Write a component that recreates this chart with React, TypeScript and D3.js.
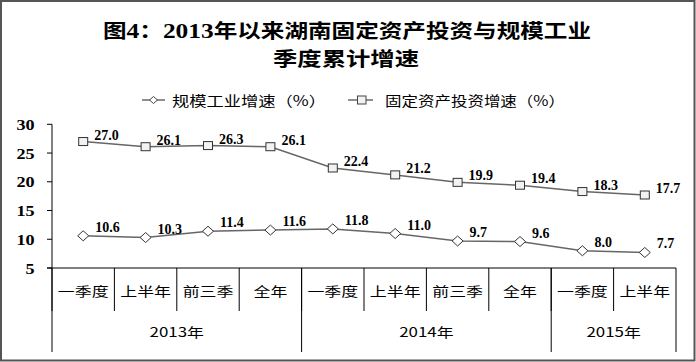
import * as d3 from 'd3'

const W = 696
const H = 362
const M = { left: 52, right: 20, top: 124.3, bottom: 268 }

const categories = ['一季度', '上半年', '前三季', '全年', '一季度', '上半年', '前三季', '全年', '一季度', '上半年']
const years = ['2013年', '2014年', '2015年']
const yearSpans = [4, 4, 2]
const industry = [10.6, 10.3, 11.4, 11.6, 11.8, 11.0, 9.7, 9.6, 8.0, 7.7]
const investment = [27.0, 26.1, 26.3, 26.1, 22.4, 21.2, 19.9, 19.4, 18.3, 17.7]
const yTicks = [5, 10, 15, 20, 25, 30]

const CJK = '"Noto Sans CJK SC", sans-serif'
const NUM = '"Liberation Serif", "Times New Roman", serif'
const SX = 1.3 // the source picture is stretched sideways

function SText({ x, y, sx = SX, anchor = 'start', size, weight = 'normal', family = CJK, children }: any) {
  return (
    <text
      transform={`translate(${x},${y}) scale(${sx},1)`}
      textAnchor={anchor}
      fontSize={size}
      fontWeight={weight}
      fontFamily={family}
      fill="#000"
    >
      {children}
    </text>
  )
}

const diamond = (cx: number, cy: number, rx: number, ry: number) =>
  `M${cx},${cy - ry}L${cx + rx},${cy}L${cx},${cy + ry}L${cx - rx},${cy}Z`

export default function App() {
  const x = d3.scaleBand<number>()
    .domain(categories.map((_, i) => i))
    .range([M.left, W - M.right])
    .padding(0)
  const y = d3.scaleLinear().domain([5, 30]).range([M.bottom, M.top])
  const cx = (i: number) => (x(i) as number) + x.bandwidth() / 2

  const line = d3.line<number>()
    .x((_, i) => cx(i))
    .y((d) => y(d))

  const x0 = M.left
  const x1 = W - M.right
  const tickBottom = 311
  const yearBottom = 352

  // year boundaries
  const yearEdges: number[] = [0]
  yearSpans.forEach((s, i) => yearEdges.push(yearEdges[i] + s))
  const edgeX = (k: number) => (k >= categories.length ? x1 : (x(k) as number))

  return (
    <svg
      width={W}
      height={H}
      style={{ position: 'absolute', left: 0, top: 0, display: 'block', background: '#fff' }}
    >
      <rect x={1} y={1} width={W - 2.5} height={H - 2.5} fill="#fff" stroke="#555" strokeWidth={2} />

      {/* title */}
      <text x={347} y={38} textAnchor="middle" fontFamily={CJK} fontWeight="bold" fontSize={19.5}
        textLength={488} lengthAdjust="spacingAndGlyphs">
        图<tspan fontFamily={NUM} fontSize={21}>4</tspan>：<tspan fontFamily={NUM} fontSize={21}>2013</tspan>年以来湖南固定资产投资与规模工业
      </text>
      <text x={346} y={66} textAnchor="middle" fontFamily={CJK} fontWeight="bold" fontSize={19.5}
        textLength={146} lengthAdjust="spacingAndGlyphs">季度累计增速</text>

      {/* legend */}
      <g>
        <line x1={142} x2={165} y1={100} y2={100} stroke="#444" strokeWidth={1.2} />
        <path d={diamond(153.5, 100, 4, 3.5)} fill="#fff" stroke="#444" strokeWidth={1} />
        <text x={172} y={105.5} fontFamily={CJK} fontSize={14} textLength={154} lengthAdjust="spacingAndGlyphs">规模工业增速（%）</text>
        <line x1={348} x2={373} y1={100} y2={100} stroke="#444" strokeWidth={1.2} />
        <rect x={357.5} y={96} width={8.5} height={8} fill="#f2f2f2" stroke="#444" strokeWidth={1} />
        <text x={385} y={105.5} fontFamily={CJK} fontSize={14} textLength={180} lengthAdjust="spacingAndGlyphs">固定资产投资增速（%）</text>
      </g>

      {/* y axis */}
      <line x1={x0} x2={x0} y1={y(30)} y2={M.bottom} stroke="#000" strokeWidth={1} />
      {yTicks.map((t) => (
        <g key={t}>
          <line x1={x0 - 5} x2={x0} y1={y(t)} y2={y(t)} stroke="#000" strokeWidth={1} />
          <SText x={34.5} y={y(t) + 5.5} anchor="end" size={14.5} weight="bold" family={NUM} sx={1.25}>{t}</SText>
        </g>
      ))}

      {/* x axis */}
      <line x1={x0 - 5} x2={x1} y1={M.bottom} y2={M.bottom} stroke="#000" strokeWidth={1} />
      {categories.map((_, i) => (
        <line key={'t' + i} x1={x(i) as number} x2={x(i) as number} y1={M.bottom} y2={tickBottom} stroke="#000" strokeWidth={1} />
      ))}
      {yearEdges.map((k) => (
        <line key={'e' + k} x1={edgeX(k)} x2={edgeX(k)} y1={M.bottom} y2={yearBottom} stroke="#000" strokeWidth={1} />
      ))}
      {categories.map((c, i) => (
        <SText key={'c' + i} x={cx(i)} y={295.5} anchor="middle" size={13}>{c}</SText>
      ))}
      {years.map((yr, j) => (
        <SText key={yr} x={(edgeX(yearEdges[j]) + edgeX(yearEdges[j + 1])) / 2} y={336.5} anchor="middle" size={13}>{yr}</SText>
      ))}

      {/* series */}
      <path d={line(investment) as string} fill="none" stroke="#666" strokeWidth={1.5} />
      <path d={line(industry) as string} fill="none" stroke="#666" strokeWidth={1.5} />

      {investment.map((v, i) => (
        <g key={'s' + i}>
          <rect x={cx(i) - 4.5} y={y(v) - 4} width={9} height={8} fill="#f2f2f2" stroke="#333" strokeWidth={1} />
          <text x={cx(i) + 11} y={y(v) - 2} fontFamily={NUM} fontWeight="bold" fontSize={14}>{v.toFixed(1)}</text>
        </g>
      ))}
      {industry.map((v, i) => (
        <g key={'d' + i}>
          <path d={diamond(cx(i), y(v), 5.5, 5)} fill="#fff" stroke="#333" strokeWidth={1} />
          <text x={cx(i) + 12} y={y(v) - 4} fontFamily={NUM} fontWeight="bold" fontSize={14}>{v.toFixed(1)}</text>
        </g>
      ))}
    </svg>
  )
}
